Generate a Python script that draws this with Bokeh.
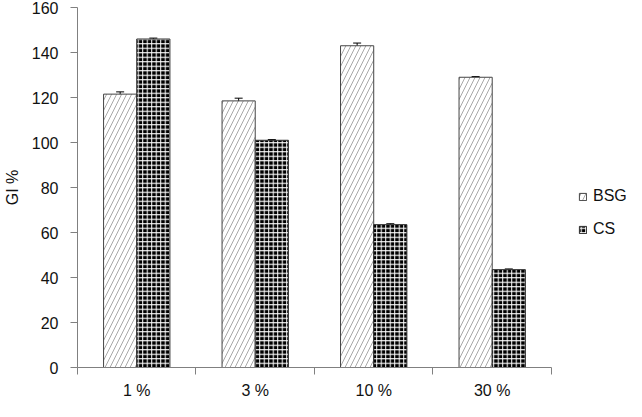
from bokeh.plotting import figure
from bokeh.models import ColumnDataSource, Whisker, TeeHead, FixedTicker, Legend, LegendItem, Range1d
from bokeh.embed import file_html
from bokeh.resources import INLINE

categories = ["1 %", "3 %", "10 %", "30 %"]
bsg = [121.5, 118.5, 143.0, 129.0]
bsg_err = [1.0, 1.2, 1.2, 0.3]
cs = [146.0, 101.0, 63.5, 43.5]
cs_err = [0.4, 0.3, 0.4, 0.3]
y_ticks = [0, 20, 40, 60, 80, 100, 120, 140, 160]

FONT = "Liberation Sans"
n = len(categories)
centers = [i + 0.5 for i in range(n)]
bw = 0.28

src_b = ColumnDataSource(dict(x=[c - bw / 2 for c in centers], top=bsg,
                              lo=[v - e for v, e in zip(bsg, bsg_err)],
                              hi=[v + e for v, e in zip(bsg, bsg_err)]))
src_c = ColumnDataSource(dict(x=[c + bw / 2 for c in centers], top=cs,
                              lo=[v - e for v, e in zip(cs, cs_err)],
                              hi=[v + e for v, e in zip(cs, cs_err)]))

p = figure(width=626, height=401, output_backend="svg", toolbar_location=None,
           x_range=Range1d(0, 556 / 120), y_range=Range1d(0, 160),
           min_border_left=70, min_border_right=0, min_border_top=7, min_border_bottom=24)
p.outline_line_color = None
p.grid.grid_line_color = None
p.background_fill_color = "white"

rb = p.vbar(x="x", top="top", width=bw, source=src_b, fill_color="white",
            line_color="#444444", line_width=1,
            hatch_pattern="/", hatch_color="#a8a8a8", hatch_scale=10, hatch_weight=1)
rc = p.vbar(x="x", top="top", width=bw, source=src_c, fill_color="#000000",
            line_color="#333333", line_width=1,
            hatch_pattern="+", hatch_color="white", hatch_scale=4.5, hatch_weight=1)

for s in (src_b, src_c):
    w = Whisker(base="x", upper="hi", lower="lo", source=s, line_color="black", line_width=1,
                upper_head=TeeHead(size=8, line_color="black", line_width=1),
                lower_head=TeeHead(size=8, line_color="black", line_width=1))
    p.add_layout(w)

# x axis
xa = p.xaxis[0]
xa.bounds = (0, n)
xa.ticker = FixedTicker(ticks=centers, minor_ticks=list(range(n + 1)))
xa.major_label_overrides = {c: lab for c, lab in zip(centers, categories)}
xa.major_tick_out = 0
xa.major_tick_in = 0
xa.minor_tick_out = 7
xa.minor_tick_in = 0
xa.minor_tick_line_color = "#808080"
xa.axis_line_color = "#808080"
xa.major_label_text_font = FONT
xa.major_label_text_font_size = "16px"
xa.major_label_text_color = "#111111"
xa.major_label_standoff = 7

ya = p.yaxis[0]
ya.ticker = FixedTicker(ticks=y_ticks)
ya.minor_tick_line_color = None
ya.major_tick_out = 7
ya.major_tick_in = 0
ya.major_tick_line_color = "#808080"
ya.axis_line_color = "#808080"
ya.major_label_text_font = FONT
ya.major_label_text_font_size = "16px"
ya.major_label_text_color = "#111111"
ya.major_label_standoff = 12
ya.axis_label = "GI %"
ya.axis_label_text_font = FONT
ya.axis_label_text_font_size = "16px"
ya.axis_label_text_font_style = "normal"
ya.axis_label_text_color = "#111111"
ya.axis_label_standoff = 8

legend = Legend(items=[LegendItem(label="BSG", renderers=[rb]),
                       LegendItem(label="CS", renderers=[rc])],
                location=(501, 128), orientation="vertical",
                glyph_width=9, glyph_height=9, label_standoff=6, spacing=13,
                label_height=20, label_width=40, padding=0, margin=0,
                border_line_color=None, background_fill_alpha=0,
                label_text_font=FONT, label_text_font_size="16px", label_text_color="#111111")
p.add_layout(legend, "center")

open("out.html", "w").write(file_html(p, INLINE))
